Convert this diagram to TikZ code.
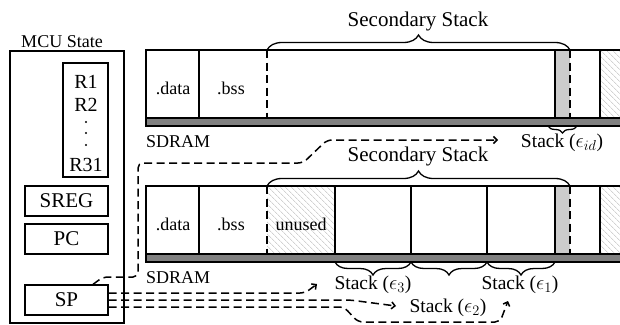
\documentclass[tikz,border=0pt]{standalone}
\usepackage{fontspec}
\setmainfont{Liberation Serif}
\usetikzlibrary{arrows.meta,decorations.pathreplacing,patterns.meta}
\begin{document}
\begin{tikzpicture}[x=1pt,y=-1pt,
  txt/.style={font=\fontsize{18}{21}\selectfont, inner sep=0pt, anchor=base},
  stk/.style={font=\fontsize{19.5}{23}\selectfont, inner sep=0pt, anchor=base},
  big/.style={font=\fontsize{21}{24}\selectfont, inner sep=0pt, anchor=base},
  reg/.style={font=\fontsize{20}{24}\selectfont, inner sep=0pt, anchor=base},
  box/.style={draw, line width=1.3pt},
  regbox/.style={box, font=\fontsize{21}{24}\selectfont, inner sep=0pt, minimum width=83pt, minimum height=30pt},
  hatch/.style={pattern={Lines[angle=-45,distance=4pt,line width=0.5pt]}, pattern color=gray!55},
  dsh/.style={line width=1.5pt, dash pattern=on 8pt off 4.5pt},
  arr/.style={dsh, -{Straight Barb[length=3.5pt,width=7pt]}, rounded corners=5pt},
  brc/.style={decorate, line width=1.3pt}
]
\useasboundingbox (0,0) rectangle (620,324);

% ---------- MCU state ----------
\node[txt] (mcut) at (62,47) {MCU State};
\node[box, minimum width=114pt, minimum height=272pt, inner sep=0pt] (mcu) at (67,187) {};
\node[box, minimum width=45pt, minimum height=114pt, inner sep=0pt] (regs) at (85.5,120) {};
\node[reg] (r1) at (86,88) {R1};
\node[reg] (r2) at (86,111) {R2};
\fill (86,122) circle (1.2pt) (86,133) circle (1.2pt) (86,145) circle (1.2pt);
\node[reg] (r31) at (86,171) {R31};
\node[regbox] (sreg) at (66.5,201) {SREG};
\node[regbox] (pc) at (66.5,239) {PC};
\node[regbox] (sp) at (66.5,300) {SP};

% ---------- top SDRAM ----------
\fill[gray] (146,118) rectangle (620,126);
\fill[gray!40] (555,50) rectangle (570,118);
\fill[hatch] (600,50) rectangle (620,118);
\draw[box] (620,50) -- (146,50) -- (146,126) -- (620,126);
\draw[box] (146,118) -- (620,118);
\draw[box] (199,50) -- (199,118);
\draw[box] (555,50) -- (555,118);
\draw[box] (600,50) -- (600,118);
\draw[dsh] (267,50) -- (267,118);
\draw[dsh] (570,50) -- (570,118);
\node[txt] (d1) at (173,94) {.data};
\node[txt] (b1) at (231,94) {.bss};
\draw[brc, decoration={brace, amplitude=15pt}] (267,50) -- (570,50);
\node[big] (ss1) at (418,26) {Secondary Stack};
\node[txt, anchor=base west] (sd1) at (146,147) {SDRAM};
\draw[brc, decoration={brace, amplitude=7pt}] (577,126) -- (548,126);
\node[stk] (sid) at (562,147) {Stack ($\epsilon_{id}$)};

% ---------- bottom SDRAM ----------
\fill[gray] (146,254) rectangle (620,262);
\fill[gray!40] (555,186) rectangle (570,254);
\fill[hatch] (600,186) rectangle (620,254);
\fill[hatch] (267,186) rectangle (335,254);
\draw[box] (620,186) -- (146,186) -- (146,262) -- (620,262);
\draw[box] (146,254) -- (620,254);
\draw[box] (199,186) -- (199,254);
\draw[box] (335,186) -- (335,254);
\draw[box] (411,186) -- (411,254);
\draw[box] (487,186) -- (487,254);
\draw[box] (555,186) -- (555,254);
\draw[box] (600,186) -- (600,254);
\draw[dsh] (267,186) -- (267,254);
\draw[dsh] (570,186) -- (570,254);
\node[txt] (d2) at (173,230) {.data};
\node[txt] (b2) at (231,230) {.bss};
\node[txt] (un) at (301,230) {unused};
\draw[brc, decoration={brace, amplitude=15pt}] (267,186) -- (570,186);
\node[big] (ss2) at (418,161) {Secondary Stack};
\node[txt, anchor=base west] (sd2) at (146,283) {SDRAM};
\draw[brc, decoration={brace, amplitude=13pt}] (411,262) -- (335,262);
\draw[brc, decoration={brace, amplitude=13pt}] (487,262) -- (411,262);
\draw[brc, decoration={brace, amplitude=13pt}] (555,262) -- (487,262);
\node[stk] (s3) at (373,289) {Stack ($\epsilon_3$)};
\node[stk] (s1) at (520,289) {Stack ($\epsilon_1$)};
\node[stk] (s2) at (448,312) {Stack ($\epsilon_2$)};

% ---------- connectors ----------
\coordinate (tid) at (498,140);
\coordinate (t3) at (317,284);
\coordinate (t2) at (396,306);
\coordinate (t1) at (508,301);
\draw[arr] ([xshift=26.5pt]sp.north) -- (103,277) -- (138,277) -- (138,163) -- (303,163) -- (327,140) -- (tid);
\draw[arr] ([yshift=7pt]sp.east) -- (305,293) -- (t3);
\draw[arr] (sp.east) -- (350,300) -- (t2);
\draw[arr] ([yshift=-7pt]sp.east) -- (344,307) -- (358,322) -- (500,322) -- (t1);
\end{tikzpicture}
\end{document}
